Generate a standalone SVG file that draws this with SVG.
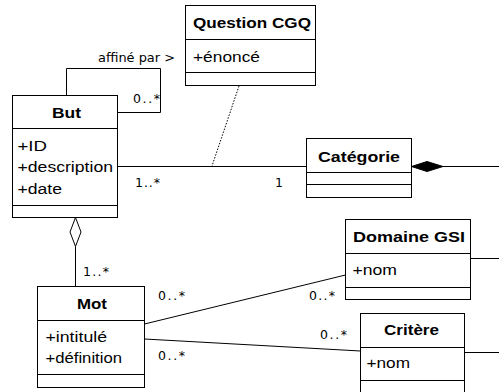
<svg xmlns="http://www.w3.org/2000/svg" width="499" height="392" viewBox="0 0 499 392">
<style>
.box{fill:#fff;stroke:#000;stroke-width:1}
.div{stroke:#000;stroke-width:1;fill:none}
.t{font-family:"Liberation Sans",Arial,sans-serif;font-size:15.5px;fill:#000}
.b{font-weight:bold}
.lbl{font-family:"DejaVu Sans","Liberation Sans",sans-serif;font-size:12.5px;fill:#000}
.ln{stroke:#000;stroke-width:1;fill:none}
</style>
<rect width="499" height="392" fill="#fff"/>
<g id="connectors">
<polyline class="ln" points="66.5,95.5 66.5,68.5 160.5,68.5 160.5,112.5 117.5,112.5"/>
<line class="ln" x1="117.5" y1="166.5" x2="306.5" y2="166.5"/>
<line class="ln" x1="239" y1="86" x2="212" y2="166" stroke-dasharray="1.5,1.5"/>
<line class="ln" x1="75.5" y1="246.5" x2="75.5" y2="286.5"/>
<path d="M75.5,217.5 L81,232 L75.5,246.5 L70,232 Z" fill="#fff" stroke="#000" stroke-width="1"/>
<line class="ln" x1="443" y1="166.5" x2="499" y2="166.5"/>
<path d="M411.5,166.5 L427,161.5 L443,166.5 L427,171.5 Z" fill="#000" stroke="#000" stroke-width="1"/>
<line class="ln" x1="144.5" y1="324" x2="345.5" y2="275"/>
<line class="ln" x1="144.5" y1="339" x2="360.5" y2="351"/>
<line class="ln" x1="470.5" y1="258.5" x2="499" y2="258.5"/>
<line class="ln" x1="464.5" y1="352.5" x2="499" y2="352.5"/>
<text class="lbl" x="98" y="62" textLength="77" lengthAdjust="spacingAndGlyphs" style="font-size:13px">affiné par &gt;</text>
<text class="lbl" x="133" y="103" textLength="27">0..*</text>
<text class="lbl" x="135" y="187" textLength="25">1..*</text>
<text class="lbl" x="275" y="187">1</text>
<text class="lbl" x="83" y="276" textLength="26">1..*</text>
<text class="lbl" x="158" y="300" textLength="27">0..*</text>
<text class="lbl" x="158" y="360" textLength="27">0..*</text>
<text class="lbl" x="309" y="300" textLength="26">0..*</text>
<text class="lbl" x="320" y="339" textLength="27">0..*</text>
</g>
<g id="question-cgq">
<rect class="box" x="185.5" y="5.5" width="130" height="80"/>
<line class="div" x1="185.5" y1="39.5" x2="315.5" y2="39.5"/>
<line class="div" x1="185.5" y1="72.5" x2="315.5" y2="72.5"/>
<text class="t b" x="193" y="28" textLength="118" lengthAdjust="spacingAndGlyphs">Question CGQ</text>
<text class="t" x="193" y="62" textLength="67" lengthAdjust="spacingAndGlyphs">+énoncé</text>
</g>
<g id="but">
<rect class="box" x="12.5" y="95.5" width="105" height="122"/>
<line class="div" x1="12.5" y1="128.5" x2="117.5" y2="128.5"/>
<line class="div" x1="12.5" y1="205.5" x2="117.5" y2="205.5"/>
<text class="t b" x="52" y="118" textLength="29" lengthAdjust="spacingAndGlyphs">But</text>
<text class="t" x="17.5" y="150.5" textLength="29.5" lengthAdjust="spacingAndGlyphs">+ID</text>
<text class="t" x="17.5" y="172" textLength="95.5" lengthAdjust="spacingAndGlyphs">+description</text>
<text class="t" x="17.5" y="194" textLength="44.5" lengthAdjust="spacingAndGlyphs">+date</text>
</g>
<g id="categorie">
<rect class="box" x="306.5" y="138.5" width="105" height="59"/>
<line class="div" x1="306.5" y1="172.5" x2="411.5" y2="172.5"/>
<line class="div" x1="306.5" y1="184.5" x2="411.5" y2="184.5"/>
<text class="t b" x="318" y="161.5" textLength="82" lengthAdjust="spacingAndGlyphs">Catégorie</text>
</g>
<g id="domaine-gsi">
<rect class="box" x="345.5" y="219.5" width="125" height="80"/>
<line class="div" x1="345.5" y1="253.5" x2="470.5" y2="253.5"/>
<line class="div" x1="345.5" y1="287.5" x2="470.5" y2="287.5"/>
<text class="t b" x="353" y="242" textLength="112" lengthAdjust="spacingAndGlyphs">Domaine GSI</text>
<text class="t" x="352.5" y="275" textLength="44.5" lengthAdjust="spacingAndGlyphs">+nom</text>
</g>
<g id="mot">
<rect class="box" x="37.5" y="286.5" width="107" height="101"/>
<line class="div" x1="37.5" y1="320.5" x2="144.5" y2="320.5"/>
<line class="div" x1="37.5" y1="374.5" x2="144.5" y2="374.5"/>
<text class="t b" x="77" y="309" textLength="30" lengthAdjust="spacingAndGlyphs">Mot</text>
<text class="t" x="45.5" y="342" textLength="61.5" lengthAdjust="spacingAndGlyphs">+intitulé</text>
<text class="t" x="45.5" y="363" textLength="76.5" lengthAdjust="spacingAndGlyphs">+définition</text>
</g>
<g id="critere">
<rect class="box" x="360.5" y="313.5" width="104" height="100"/>
<line class="div" x1="360.5" y1="347.5" x2="464.5" y2="347.5"/>
<line class="div" x1="360.5" y1="380.5" x2="464.5" y2="380.5"/>
<text class="t b" x="384" y="335" textLength="55" lengthAdjust="spacingAndGlyphs">Critère</text>
<text class="t" x="366.5" y="368" textLength="43.5" lengthAdjust="spacingAndGlyphs">+nom</text>
</g>
</svg>
